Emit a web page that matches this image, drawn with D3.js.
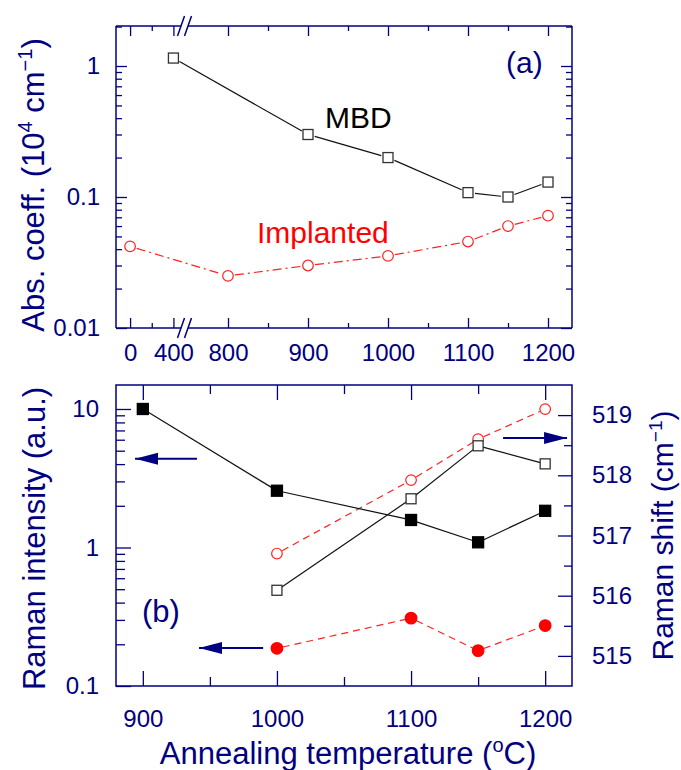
<!DOCTYPE html>
<html><head><meta charset="utf-8">
<script src="https://cdn.jsdelivr.net/npm/d3@7"></script>
<style>body{margin:0;background:#fff}svg{display:block}</style>
</head><body>
<script>
// ---------- data ----------
const mbdTemp = [400, 900, 1000, 1100, 1150, 1200];
const mbdAbs = [1.15, 0.30, 0.20, 0.108, 0.100, 0.130];
const implTemp = [0, 800, 900, 1000, 1100, 1150, 1200];
const implAbs = [0.042, 0.025, 0.030, 0.0355, 0.0457, 0.060, 0.072];

const intTemp = [900, 1000, 1100, 1150, 1200];
const intMBD = [10, 2.57, 1.58, 1.09, 1.84];           // filled squares (left axis)
const intImplTemp = [1000, 1100, 1150, 1200];
const intImpl = [0.187, 0.309, 0.180, 0.273];          // filled circles (left axis)
const shiftTemp = [1000, 1100, 1150, 1200];
const shiftMBD = [516.09, 517.61, 518.49, 518.19];    // open squares (right axis)
const shiftImpl = [516.70, 517.92, 518.60, 519.10];   // open circles (right axis)

const topMajorX = [0, 400, 800, 900, 1000, 1100, 1200];
const topMinorX = [200, 850, 950, 1050, 1150];
const topMajorY = [0.01, 0.1, 1];
const botMajorX = [900, 1000, 1100, 1200];
const botMinorX = [950, 1050, 1150];
const botMajorYL = [0.1, 1, 10];
const botMajorYR = [515, 516, 517, 518, 519];
const botMinorYR = [515.5, 516.5, 517.5, 518.5];

// ---------- setup ----------
const W = 681, H = 770;
const NAVY = "#000080", FONT = "'Liberation Sans', Arial, sans-serif";
const svg = d3.select("body").append("svg").attr("width", W).attr("height", H)
  .style("font-family", FONT);

const L = 116, R = 572;
const T1 = 26, B1 = 328, T2 = 385, B2 = 686;

const xTop = d3.scaleLinear().domain([-130, 470, 750, 1230]).range([L, 181, 188, R]);
const yTop = d3.scaleLog().domain([0.01, 2.02]).range([B1, T1]);
const xBot = d3.scaleLinear().domain([880, 1220]).range([L, R]);
const yBotL = d3.scaleLog().domain([0.1, 14.9]).range([B2, T2]);
const yBotR = d3.scaleLinear().domain([514.5, 519.5]).range([B2, T2]);

function minorLog(lo, hi) {
  const out = [];
  for (let p = lo; p < hi; p++) for (let k = 2; k <= 9; k++) out.push(k * Math.pow(10, p));
  return out;
}

function styleAxis(g) {
  g.select(".domain").remove();
  g.selectAll("line").attr("stroke", NAVY).attr("stroke-width", 1.3);
  g.selectAll("text").attr("fill", NAVY).style("font-size", "24px").style("font-family", FONT);
}
function addAxis(gen, tx, ty) {
  const g = svg.append("g").attr("transform", `translate(${tx},${ty})`).call(gen);
  styleAxis(g);
  return g;
}
const fmt = d => String(d);

// ---------- top panel axes ----------
let g;
g = addAxis(d3.axisBottom(xTop).tickValues(topMajorX).tickSize(-10).tickFormat(fmt), 0, B1);
g.selectAll("text").attr("y", 33).attr("dy", null);
addAxis(d3.axisBottom(xTop).tickValues(topMinorX).tickSize(-5).tickFormat(""), 0, B1);
addAxis(d3.axisTop(xTop).tickValues(topMajorX).tickSize(-10).tickFormat(""), 0, T1);
addAxis(d3.axisTop(xTop).tickValues(topMinorX).tickSize(-5).tickFormat(""), 0, T1);
addAxis(d3.axisLeft(yTop).tickValues(topMajorY).tickSize(-11).tickPadding(16).tickFormat(fmt), L, 0);
addAxis(d3.axisLeft(yTop).tickValues(minorLog(-2, 1).filter(d => d < 2.02)).tickSize(-6).tickFormat(""), L, 0);
addAxis(d3.axisRight(yTop).tickValues(topMajorY).tickSize(-11).tickFormat(""), R, 0);
addAxis(d3.axisRight(yTop).tickValues(minorLog(-2, 1).filter(d => d < 2.02)).tickSize(-6).tickFormat(""), R, 0);

// frame with break
const bx1 = xTop(470), bx2 = xTop(750);
const frame = svg.append("g").attr("stroke", NAVY).attr("stroke-width", 1.5).attr("fill", "none");
[[L, T1, L, B1], [R, T1, R, B1], [L, T1, bx1, T1], [bx2, T1, R, T1], [L, B1, bx1, B1], [bx2, B1, R, B1]]
  .forEach(s => frame.append("line").attr("x1", s[0]).attr("y1", s[1]).attr("x2", s[2]).attr("y2", s[3]));
[T1, B1].forEach(yy => {
  [bx1, bx2].forEach(xx => {
    frame.append("line").attr("x1", xx - 3.5).attr("y1", yy + 10).attr("x2", xx + 3.5).attr("y2", yy - 10);
  });
});

// ---------- bottom panel axes ----------
g = addAxis(d3.axisBottom(xBot).tickValues(botMajorX).tickSize(-15).tickFormat(fmt), 0, B2);
g.selectAll("text").attr("y", 41).attr("dy", null);
addAxis(d3.axisBottom(xBot).tickValues(botMinorX).tickSize(-9).tickFormat(""), 0, B2);
addAxis(d3.axisTop(xBot).tickValues(botMajorX).tickSize(-15).tickFormat(""), 0, T2);
addAxis(d3.axisTop(xBot).tickValues(botMinorX).tickSize(-9).tickFormat(""), 0, T2);
addAxis(d3.axisLeft(yBotL).tickValues(botMajorYL).tickSize(-15).tickPadding(17).tickFormat(fmt), L, 0);
addAxis(d3.axisLeft(yBotL).tickValues(minorLog(-1, 2).filter(d => d < 14.9)).tickSize(-9).tickFormat(""), L, 0);
addAxis(d3.axisRight(yBotR).tickValues(botMajorYR).tickSize(-14).tickPadding(20).tickFormat(fmt), R, 0);
addAxis(d3.axisRight(yBotR).tickValues(botMinorYR).tickSize(-8).tickFormat(""), R, 0);
svg.append("rect").attr("x", L).attr("y", T2).attr("width", R - L).attr("height", B2 - T2)
  .attr("fill", "none").attr("stroke", NAVY).attr("stroke-width", 1.5);

// ---------- series drawing ----------
function segments(pts, gap, attrs) {
  const grp = svg.append("g");
  for (let i = 0; i < pts.length - 1; i++) {
    const [x1, y1] = pts[i], [x2, y2] = pts[i + 1];
    const dx = x2 - x1, dy = y2 - y1, len = Math.hypot(dx, dy);
    const ux = dx / len, uy = dy / len;
    const ln = grp.append("line")
      .attr("x1", x1 + ux * gap).attr("y1", y1 + uy * gap)
      .attr("x2", x2 - ux * gap).attr("y2", y2 - uy * gap);
    Object.entries(attrs).forEach(([k, v]) => ln.attr(k, v));
  }
}
function squares(pts, size, fill, stroke) {
  svg.append("g").selectAll("rect").data(pts).join("rect")
    .attr("x", d => d[0] - size / 2).attr("y", d => d[1] - size / 2)
    .attr("width", size).attr("height", size)
    .attr("fill", fill).attr("stroke", stroke).attr("stroke-width", 1.3);
}
function circles(pts, r, fill, stroke) {
  svg.append("g").selectAll("circle").data(pts).join("circle")
    .attr("cx", d => d[0]).attr("cy", d => d[1]).attr("r", r)
    .attr("fill", fill).attr("stroke", stroke).attr("stroke-width", 1.2);
}

// top panel
const mbdPts = mbdTemp.map((t, i) => [xTop(t), yTop(mbdAbs[i])]);
const implPts = implTemp.map((t, i) => [xTop(t), yTop(implAbs[i])]);
segments(mbdPts, 7, { stroke: "#111", "stroke-width": 1.2 });
segments(implPts, 7, { stroke: "#ff2020", "stroke-width": 1.2, "stroke-dasharray": "9,4,2,4" });
squares(mbdPts, 10, "#fff", "#333");
circles(implPts, 5.3, "#fff", "#ff2020");

// bottom panel
const intMBDPts = intTemp.map((t, i) => [xBot(t), yBotL(intMBD[i])]);
const intImplPts = intImplTemp.map((t, i) => [xBot(t), yBotL(intImpl[i])]);
const shMBDPts = shiftTemp.map((t, i) => [xBot(t), yBotR(shiftMBD[i])]);
const shImplPts = shiftTemp.map((t, i) => [xBot(t), yBotR(shiftImpl[i])]);
segments(shImplPts, 6, { stroke: "#ff2020", "stroke-width": 1.2, "stroke-dasharray": "7,5" });
segments(intImplPts, 6, { stroke: "#ff2020", "stroke-width": 1.2, "stroke-dasharray": "7,5" });
segments(intMBDPts, 5, { stroke: "#111", "stroke-width": 1.2 });
segments(shMBDPts, 5, { stroke: "#111", "stroke-width": 1.2 });
circles(shImplPts, 5.3, "#fff", "#ff2020");
squares(shMBDPts, 10, "#fff", "#333");
squares(intMBDPts, 11, "#000", "#000");
circles(intImplPts, 5.8, "#ff0000", "#ff0000");

// arrows (data coordinates)
const arrowsL = [{ x1: 940.4, x2: 894.2, v: 4.37 }, { x1: 989.7, x2: 941.9, v: 0.188 }];
const arrowsR = [{ x1: 1168.6, x2: 1216.3, v: 518.62 }];
svg.append("defs").append("marker").attr("id", "ah").attr("markerUnits", "userSpaceOnUse")
  .attr("viewBox", "0 -7 24 14").attr("refX", 23).attr("refY", 0)
  .attr("markerWidth", 24).attr("markerHeight", 14).attr("orient", "auto")
  .append("path").attr("d", "M0,-6L23,0L0,6Z").attr("fill", NAVY);
arrowsL.forEach(a => svg.append("line").attr("x1", xBot(a.x1)).attr("x2", xBot(a.x2))
  .attr("y1", yBotL(a.v)).attr("y2", yBotL(a.v)).attr("stroke", NAVY).attr("stroke-width", 2)
  .attr("marker-end", "url(#ah)"));
arrowsR.forEach(a => svg.append("line").attr("x1", xBot(a.x1)).attr("x2", xBot(a.x2))
  .attr("y1", yBotR(a.v)).attr("y2", yBotR(a.v)).attr("stroke", NAVY).attr("stroke-width", 2)
  .attr("marker-end", "url(#ah)"));

// ---------- text ----------
function txt(x, y, s, size, color, anchor) {
  return svg.append("text").attr("x", x).attr("y", y).attr("fill", color)
    .attr("text-anchor", anchor || "start").style("font-size", size + "px").text(s);
}
txt(325, 128, "MBD", 30, "#000");
txt(257, 243, "Implanted", 30, "#ff0000");
txt(506, 73, "(a)", 30, NAVY);
txt(142, 622, "(b)", 31, NAVY);

// y-title top
let t = svg.append("text").attr("transform", `translate(44,${(T1 + B1) / 2 + 8}) rotate(-90)`)
  .attr("text-anchor", "middle").attr("fill", NAVY).style("font-size", "31px");
t.append("tspan").text("Abs. coeff. (10");
t.append("tspan").attr("dy", -12).style("font-size", "20px").text("4");
t.append("tspan").attr("dy", 12).text(" cm");
t.append("tspan").attr("dy", -12).style("font-size", "20px").text("\u22121");
t.append("tspan").attr("dy", 12).text(")");

// y-title bottom left
svg.append("text").attr("transform", `translate(45,${(T2 + B2) / 2 + 3}) rotate(-90)`)
  .attr("text-anchor", "middle").attr("fill", NAVY).style("font-size", "31px")
  .text("Raman intensity (a.u.)");

// y-title bottom right
t = svg.append("text").attr("transform", `translate(673,${(T2 + B2) / 2}) rotate(-90)`)
  .attr("text-anchor", "middle").attr("fill", NAVY).style("font-size", "30px");
t.append("tspan").text("Raman shift (cm");
t.append("tspan").attr("dy", -11).style("font-size", "19px").text("\u22121");
t.append("tspan").attr("dy", 11).text(")");

// x-title
t = svg.append("text").attr("x", 348).attr("y", 764).attr("text-anchor", "middle")
  .attr("fill", NAVY).style("font-size", "31px");
t.append("tspan").text("Annealing temperature (");
t.append("tspan").attr("dy", -12).style("font-size", "20px").text("o");
t.append("tspan").attr("dy", 12).text("C)");
</script>
</body></html>
